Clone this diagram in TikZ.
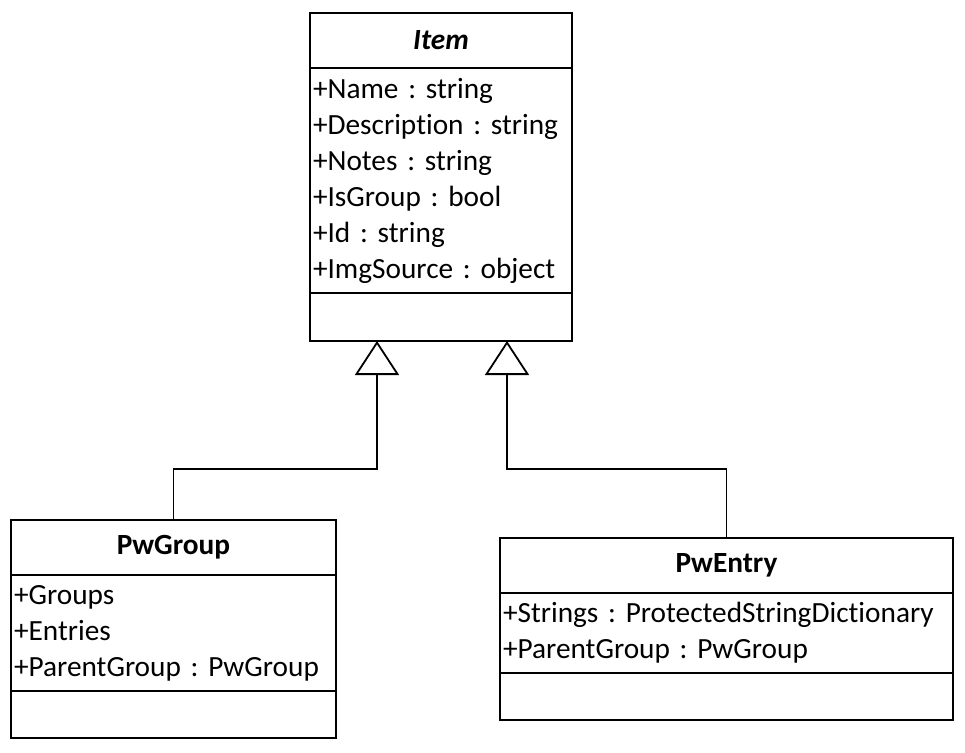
\documentclass[tikz,border=0pt]{standalone}
\usepackage{fontspec}
\setmainfont[RawFeature={-liga;-clig;-calt}]{Carlito}
\frenchspacing
\usepackage{tikz}
\usetikzlibrary{positioning,% compartments stacked below one another
arrows.meta}
\tikzset{every node/.style={font=\fontsize{29.3}{36}\selectfont},
  classbox/.style={draw, line width=1.9pt, anchor=north west, inner xsep=3pt,
    inner ysep=0pt, outer sep=0pt},
  classtitle/.style={classbox, font=\fontsize{29.3}{36}\selectfont\bfseries, align=center},
  classattr/.style={classbox, align=left},
  inherit/.style={line width=1.4pt, -{Triangle[open, length=34pt, width=44pt, line width=1.8pt]}}}

\begin{document}
\begin{tikzpicture}[x=1pt, y=1pt]
      \useasboundingbox (0,0) rectangle (965,-752);
      % Item
      \node[classtitle, text width=256pt, minimum height=55pt] (itemtitle) at (310,-13)
      {\itshape Item};
      \node[classattr, text width=256pt, minimum height=225pt, below right=0pt and 0pt of itemtitle.south west] (itemattr)
      {+Name : string\\+Description : string\\+Notes : string\\+IsGroup : bool\\+Id : string\\+ImgSource : object};
      \node[classattr, text width=256pt, minimum height=48pt, below right=0pt and 0pt of itemattr.south west] (itemops) {};
      % PwGroup
      \node[classtitle, text width=319pt, minimum height=55pt] (grptitle) at (11,-520) {PwGroup};
      \node[classattr, text width=319pt, minimum height=116pt, below right=0pt and 0pt of grptitle.south west] (grpattr)
      {+Groups\\+Entries\\+ParentGroup : PwGroup};
      \node[classattr, text width=319pt, minimum height=47pt, below right=0pt and 0pt of grpattr.south west] (grpops) {};
      % PwEntry
      \node[classtitle, text width=447pt, minimum height=55pt] (enttitle) at (500,-538) {PwEntry};
      \node[classattr, text width=447pt, minimum height=80pt, below right=0pt and 0pt of enttitle.south west] (entattr)
      {+Strings : ProtectedStringDictionary\\+ParentGroup : PwGroup};
      \node[classattr, text width=447pt, minimum height=47pt, below right=0pt and 0pt of entattr.south west] (entops) {};
      % generalisation
      \coordinate (joinL) at (377,-469);
      \coordinate (joinR) at (507,-469);
      \draw[inherit] (grptitle.north) |- (joinL) -- (joinL |- itemops.south);
      \draw[inherit] (enttitle.north) |- (joinR) -- (joinR |- itemops.south);
    \end{tikzpicture}
\end{document}
